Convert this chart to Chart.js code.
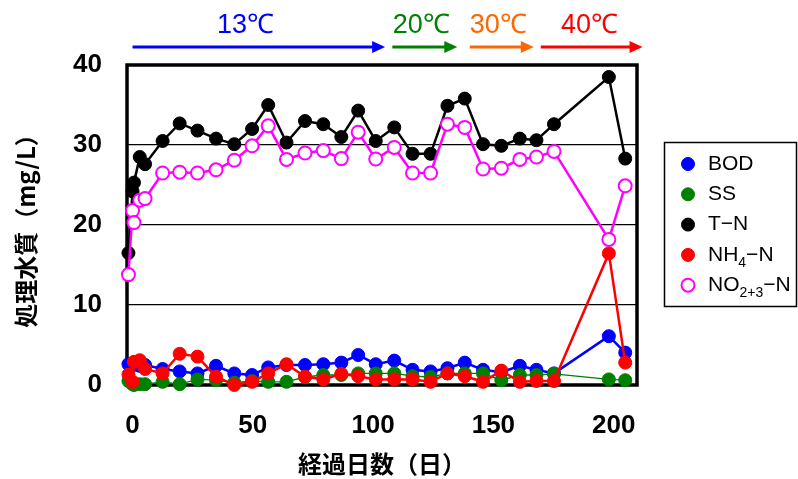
<!DOCTYPE html>
<html>
<head>
<meta charset="utf-8">
<script src="https://cdn.jsdelivr.net/npm/chart.js@4/dist/chart.umd.min.js"></script>
<style>
html, body {
    margin: 0;
    padding: 0;
    background: #ffffff;
}
#wrap {
    width: 798px;
    height: 479px;
}
</style>
</head>
<body>
<div id="wrap">
    <canvas id="waterChart" width="798" height="479"></canvas>
</div>
<script>

// sampling days (経過日数)
const days = [
    -1.7, 0, 0.6, 3, 5.2, 12.5, 19.6, 27, 34.7, 42.3,
    49.7, 56.4, 64, 71.7, 79.3, 86.8, 93.8, 101.1, 108.8, 116.4,
    123.9, 130.9, 138.1, 145.7, 153.3, 161, 167.9, 175.2, 198, 204.8
];

// mg/L
const bod = [
    2.6, 2.7, 2.5, 2.4, 2.5, 2.0, 1.7, 1.45, 2.4, 1.45,
    1.25, 2.2, 2.5, 2.5, 2.6, 2.8, 3.75, 2.6, 3.05, 1.9,
    1.7, 2.1, 2.8, 1.9, 1.6, 2.4, 1.9, 1.45, 6.1, 4.05
];

const ss = [
    0.5, 0.1, 0.0, 0.1, 0.1, 0.4, 0.1, 0.7, 0.6, 0.3,
    0.5, 0.4, 0.4, 1.0, 1.25, 1.25, 1.45, 1.45, 1.45, 1.1,
    1.0, 1.45, 1.45, 1.45, 0.6, 1.25, 1.25, 1.4, 0.7, 0.6
];

const tn = [
    16.5, 24.2, 25.3, 28.5, 27.6, 30.5, 32.7, 31.8, 30.8, 30.1,
    32.0, 35.0, 30.3, 33.0, 32.6, 31.0, 34.3, 30.5, 32.2, 28.9,
    28.9, 34.9, 35.8, 30.1, 29.9, 30.8, 30.6, 32.6, 38.5, 28.3
];

const nh4 = [
    1.3, 0.4, 2.9, 3.1, 2.0, 1.45, 3.9, 3.55, 1.05, 0.0,
    0.4, 1.45, 2.6, 1.05, 0.7, 1.4, 1.1, 0.7, 0.7, 0.7,
    0.4, 1.45, 1.1, 0.4, 1.8, 0.4, 0.5, 0.5, 16.45, 2.8
];

const no23 = [
    13.8, 21.8, 20.3, 23.1, 23.3, 26.5, 26.6, 26.5, 26.9, 28.1,
    29.9, 32.4, 28.2, 29.0, 29.3, 28.3, 31.6, 28.25, 29.7, 26.5,
    26.5, 32.6, 32.2, 27.0, 27.1, 28.2, 28.5, 29.2, 18.2, 24.9
];

const xTicks = [0, 50, 100, 150, 200];
const yTicks = [0, 10, 20, 30, 40];

// temperature periods shown above the plot (in days)
const periodNames = ["13℃", "20℃", "30℃", "40℃"];
const periodStart = [0, 108, 140.2, 169.7];
const periodEnd = [105, 135, 166.8, 212];
const periodLabelAt = [47, 120, 152, 190];

// legend text: [main, subscript, rest]
const legendParts = [
    ["BOD", "", ""],
    ["SS", "", ""],
    ["T\u2212N", "", ""],
    ["NH", "4", "\u2212N"],
    ["NO", "2+3", "\u2212N"]
];

const numFont = "'Liberation Sans Narrow', 'Liberation Sans', Arial, sans-serif";
const jpFont = "'Noto Sans CJK JP', sans-serif";

function toPoints(values) {

    return days.map(
        (d, i) => ({ x: d, y: values[i] })
    );
}

function makeSet(label, values, color, width, order) {

    return {
        label,
        data: toPoints(values),
        borderColor: color,
        backgroundColor: color,
        borderWidth: width,
        pointRadius: 6.5,
        pointBorderWidth: 1,
        pointBackgroundColor: color,
        pointBorderColor: color,
        tension: 0,
        clip: false,
        order
    };
}

const bodSet = makeSet("BOD", bod, "#0000ff", 2.5, 5);
const ssSet = makeSet("SS", ss, "#008000", 1.3, 4);
const tnSet = makeSet("T-N", tn, "#000000", 2.5, 3);
const nh4Set = makeSet("NH4-N", nh4, "#ff0000", 2.5, 2);
const no23Set = makeSet("NO2+3-N", no23, "#ff00ff", 2.5, 1);

no23Set.pointBackgroundColor = "#ffffff";
no23Set.pointBorderWidth = 2;
no23Set.pointRadius = 6.5;

const periodColors = ["#0000ff", "#008000", "#ff6600", "#ff0000"];

const framePlugin = {

    id: "frame",

    beforeDatasetsDraw(chart) {

        const ctx = chart.ctx;
        const a = chart.chartArea;

        ctx.save();
        ctx.strokeStyle = "#000000";
        ctx.lineWidth = 3.5;
        ctx.strokeRect(
            a.left,
            a.top,
            a.right - a.left,
            a.bottom - a.top
        );
        ctx.restore();
    }
};

const periodPlugin = {

    id: "periods",

    afterDraw(chart) {

        const ctx = chart.ctx;
        const xs = chart.scales.x;
        const arrowY = 47;

        ctx.save();

        periodNames.forEach((name, i) => {

            const x1 = xs.getPixelForValue(periodStart[i]);
            const x2 = xs.getPixelForValue(periodEnd[i]);
            const color = periodColors[i];

            ctx.strokeStyle = color;
            ctx.fillStyle = color;
            ctx.lineWidth = 3;

            ctx.beginPath();
            ctx.moveTo(x1, arrowY);
            ctx.lineTo(x2 - 10, arrowY);
            ctx.stroke();

            ctx.beginPath();
            ctx.moveTo(x2, arrowY);
            ctx.lineTo(x2 - 13, arrowY - 6);
            ctx.lineTo(x2 - 13, arrowY + 6);
            ctx.closePath();
            ctx.fill();

            ctx.font = "27px " + numFont;
            ctx.textAlign = "center";
            ctx.textBaseline = "middle";
            ctx.fillText(
                name,
                xs.getPixelForValue(periodLabelAt[i]),
                26
            );
        });

        ctx.restore();
    }
};

const legendPlugin = {

    id: "boxLegend",

    afterDraw(chart) {

        const ctx = chart.ctx;
        const sets = [bodSet, ssSet, tnSet, nh4Set, no23Set];

        ctx.save();

        ctx.strokeStyle = "#000000";
        ctx.lineWidth = 1.5;
        ctx.strokeRect(664.5, 142.5, 132, 164);

        sets.forEach((set, i) => {

            const y = 164 + i * 30.3;

            ctx.beginPath();
            ctx.arc(688, y, 6.5, 0, Math.PI * 2);
            ctx.fillStyle = set.pointBackgroundColor;
            ctx.fill();
            ctx.lineWidth = set.pointBorderWidth;
            ctx.strokeStyle = set.pointBorderColor;
            ctx.stroke();

            const parts = legendParts[i];
            let x = 708;

            ctx.fillStyle = "#000000";
            ctx.textAlign = "left";
            ctx.textBaseline = "middle";

            ctx.font = "21px 'Liberation Sans', Arial, sans-serif";
            ctx.fillText(parts[0], x, y);
            x += ctx.measureText(parts[0]).width;

            if (parts[1]) {
                ctx.font = "14px 'Liberation Sans', Arial, sans-serif";
                ctx.fillText(parts[1], x, y + 8);
                x += ctx.measureText(parts[1]).width;
            }

            if (parts[2]) {
                ctx.font = "21px 'Liberation Sans', Arial, sans-serif";
                ctx.fillText(parts[2], x, y);
            }
        });

        ctx.restore();
    }
};

new Chart(
    document.getElementById("waterChart"),
    {
        type: "line",

        data: {
            datasets: [bodSet, ssSet, tnSet, nh4Set, no23Set]
        },

        options: {

            responsive: false,
            devicePixelRatio: 1,
            animation: false,

            layout: {
                padding: {
                    top: 65,
                    right: 161,
                    left: 0,
                    bottom: 0
                }
            },

            plugins: {
                legend: { display: false },
                tooltip: { enabled: false }
            },

            scales: {

                x: {
                    type: "linear",
                    min: -2.3,
                    max: 209.7,
                    afterBuildTicks(scale) {
                        scale.ticks = xTicks.map(v => ({ value: v }));
                    },
                    afterFit(scale) {
                        scale.height = 94;
                    },
                    grid: { display: false },
                    border: { display: false },
                    ticks: {
                        color: "#000000",
                        padding: 17,
                        maxRotation: 0,
                        font: { family: numFont, size: 26, weight: "bold" }
                    },
                    title: {
                        display: true,
                        text: "経過日数（日）",
                        color: "#000000",
                        padding: { top: 0, bottom: 1 },
                        font: { family: jpFont, size: 24, weight: "bold" }
                    }
                },

                y: {
                    type: "linear",
                    min: 0,
                    max: 40,
                    afterBuildTicks(scale) {
                        scale.ticks = yTicks.map(v => ({ value: v }));
                    },
                    afterFit(scale) {
                        scale.width = 127;
                    },
                    grid: {
                        drawTicks: false,
                        lineWidth: 1.2,
                        color: c =>
                            (c.tick && (c.tick.value === 0 || c.tick.value === 40))
                                ? "rgba(0,0,0,0)"
                                : "#000000"
                    },
                    border: { display: false },
                    ticks: {
                        color: "#000000",
                        padding: 25,
                        font: { family: numFont, size: 26, weight: "bold" }
                    },
                    title: {
                        display: true,
                        text: "処理水質（mg/L）",
                        color: "#000000",
                        padding: { top: 11, bottom: 0 },
                        font: { family: jpFont, size: 24, weight: "bold" }
                    }
                }
            }
        },

        plugins: [framePlugin, periodPlugin, legendPlugin]
    }
);
</script>
</body>
</html>
